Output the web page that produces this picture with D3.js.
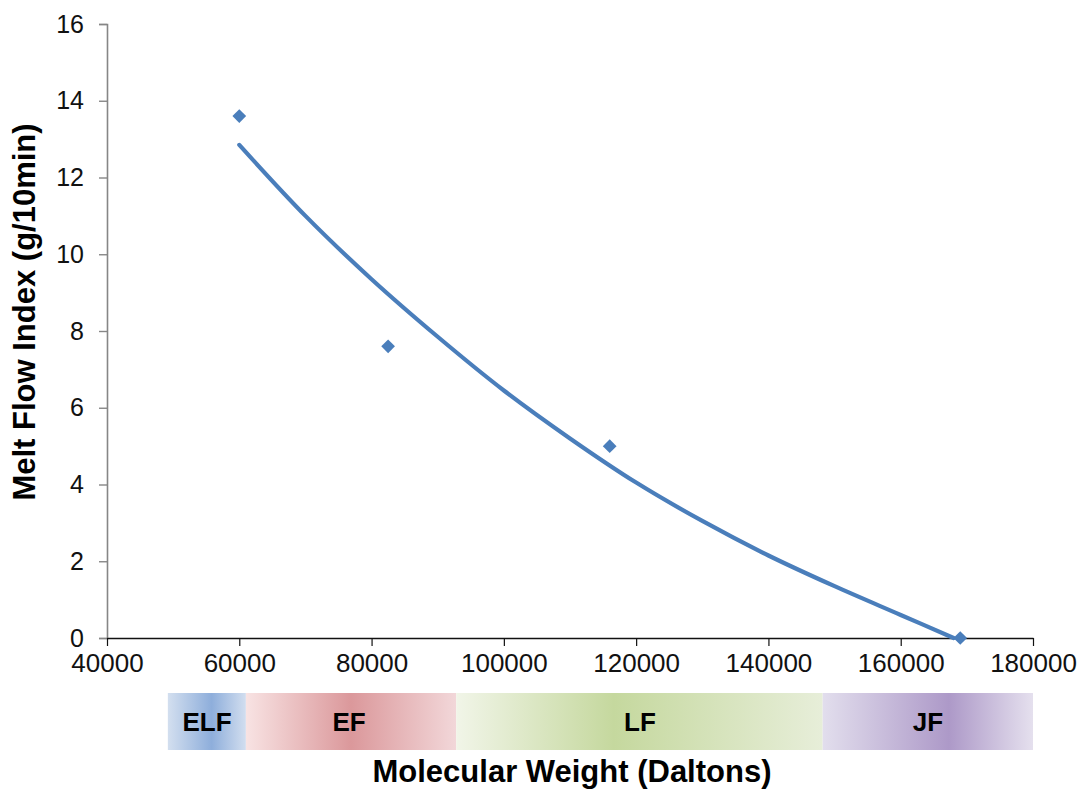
<!DOCTYPE html>
<html>
<head>
<meta charset="utf-8">
<script src="https://cdn.jsdelivr.net/npm/d3@7"></script>
<style>
  html, body { margin: 0; padding: 0; background: #fff; }
  svg { display: block; font-family: "Liberation Sans", Arial, sans-serif; }
</style>
</head>
<body>
<svg id="chart" width="1080" height="790"></svg>
<script>
// Measured resins: molecular weight (Daltons) vs melt flow index (g/10min)
const molecularWeight = [60000, 82500, 116000, 169000];
const meltFlowIndex   = [13.6, 7.6, 5.0, 0.0];

// Fitted trend curve through the measurements
const trendWeight = [60000, 70000, 80000, 90000, 100000, 110000, 120000, 130000, 140000, 150000, 160000, 168000];
const trendIndex  = [12.85, 11.0, 9.35, 7.85, 6.45, 5.2, 4.05, 3.05, 2.15, 1.35, 0.6, 0.0];

// Axis ticks
const xTicks = [40000, 60000, 80000, 100000, 120000, 140000, 160000, 180000];
const yTicks = [0, 2, 4, 6, 8, 10, 12, 14, 16];

// Film grade bands along the molecular weight axis
const bandNames = ["ELF", "EF", "LF", "JF"];
const bandStart = [49200, 61000, 92800, 148200];
const bandEnd   = [61000, 92800, 148200, 180000];

// Gradient shading per band
const bandShade = {
  ELF: [[0, "#d3dfef"], [0.56, "#8eaedb"], [1, "#d2deef"]],
  EF:  [[0, "#f8e3e3"], [0.5, "#db989b"], [1, "#f2d7d9"]],
  LF:  [[0, "#f1f5e8"], [0.43, "#c5d89e"], [1, "#e7eed9"]],
  JF:  [[0, "#e2deed"], [0.6, "#ad99c8"], [1, "#e5e0ee"]]
};

const svg = d3.select("#chart");
const plot = { left: 107, right: 1033, top: 24, bottom: 638 };

const x = d3.scaleLinear().domain([40000, 180000]).range([plot.left, plot.right]);
const y = d3.scaleLinear().domain([0, 16]).range([plot.bottom, plot.top]);

const blue = "#4a7ebb";

// Y axis (grey, ticks outside)
const yAxis = svg.append("g")
  .attr("transform", `translate(${plot.left},0)`)
  .call(d3.axisLeft(y).tickValues(yTicks).tickSize(8).tickPadding(15).tickFormat(d3.format("d")));
yAxis.select(".domain").attr("stroke", "#868686").attr("stroke-width", 1.6);
yAxis.selectAll(".tick line").attr("stroke", "#868686").attr("stroke-width", 1.4);
yAxis.selectAll(".tick text").attr("font-size", 25).attr("fill", "#111");

// X axis (black, ticks downward)
const xAxis = svg.append("g")
  .attr("transform", `translate(0,${plot.bottom})`)
  .call(d3.axisBottom(x).tickValues(xTicks).tickSize(8).tickSizeOuter(0).tickPadding(8).tickFormat(d3.format("d")));
xAxis.select(".domain").attr("stroke", "#111").attr("stroke-width", 1.6);
xAxis.selectAll(".tick line").attr("stroke", "#111").attr("stroke-width", 1.2);
xAxis.selectAll(".tick text").attr("font-size", 26).attr("fill", "#111");

// Trend curve
const trend = trendWeight.map((w, i) => [w, trendIndex[i]]);
svg.append("path")
  .datum(trend)
  .attr("fill", "none")
  .attr("stroke", blue)
  .attr("stroke-width", 4.2)
  .attr("stroke-linecap", "round")
  .attr("d", d3.line().x(d => x(d[0])).y(d => y(d[1])).curve(d3.curveCatmullRom.alpha(0.5)));

// Diamond markers
const diamond = d3.symbol().type(d3.symbolDiamond2).size(120);
svg.append("g").selectAll("path")
  .data(molecularWeight.map((w, i) => [w, meltFlowIndex[i]]))
  .join("path")
  .attr("d", diamond)
  .attr("transform", d => `translate(${x(d[0])},${y(d[1])})`)
  .attr("fill", blue);

// Grade bands below the axis
const defs = svg.append("defs");
bandNames.forEach(name => {
  const g = defs.append("linearGradient").attr("id", "band-" + name)
    .attr("x1", "0%").attr("x2", "100%").attr("y1", "0%").attr("y2", "0%");
  bandShade[name].forEach(([o, c]) => g.append("stop").attr("offset", o).attr("stop-color", c));
});

const bandTop = 693, bandHeight = 57;
const bands = svg.append("g").selectAll("g")
  .data(bandNames.map((n, i) => ({ name: n, start: bandStart[i], end: bandEnd[i] })))
  .join("g");
bands.append("rect")
  .attr("x", d => x(d.start))
  .attr("width", d => x(d.end) - x(d.start))
  .attr("y", bandTop)
  .attr("height", bandHeight)
  .attr("fill", d => `url(#band-${d.name})`);

const labelX = { ELF: 207, EF: 349, LF: 640, JF: 928 };
bands.append("text")
  .attr("x", d => labelX[d.name])
  .attr("y", bandTop + bandHeight / 2)
  .attr("dy", "0.36em")
  .attr("text-anchor", "middle")
  .attr("font-size", 26)
  .attr("font-weight", "bold")
  .attr("fill", "#000")
  .text(d => d.name);

// Axis titles
svg.append("text")
  .attr("x", 572)
  .attr("y", 782)
  .attr("text-anchor", "middle")
  .attr("font-size", 31)
  .attr("font-weight", "bold")
  .attr("fill", "#000")
  .text("Molecular Weight (Daltons)");

svg.append("text")
  .attr("transform", "translate(35,312) rotate(-90)")
  .attr("text-anchor", "middle")
  .attr("font-size", 31)
  .attr("font-weight", "bold")
  .attr("fill", "#000")
  .text("Melt Flow Index (g/10min)");
</script>
</body>
</html>
